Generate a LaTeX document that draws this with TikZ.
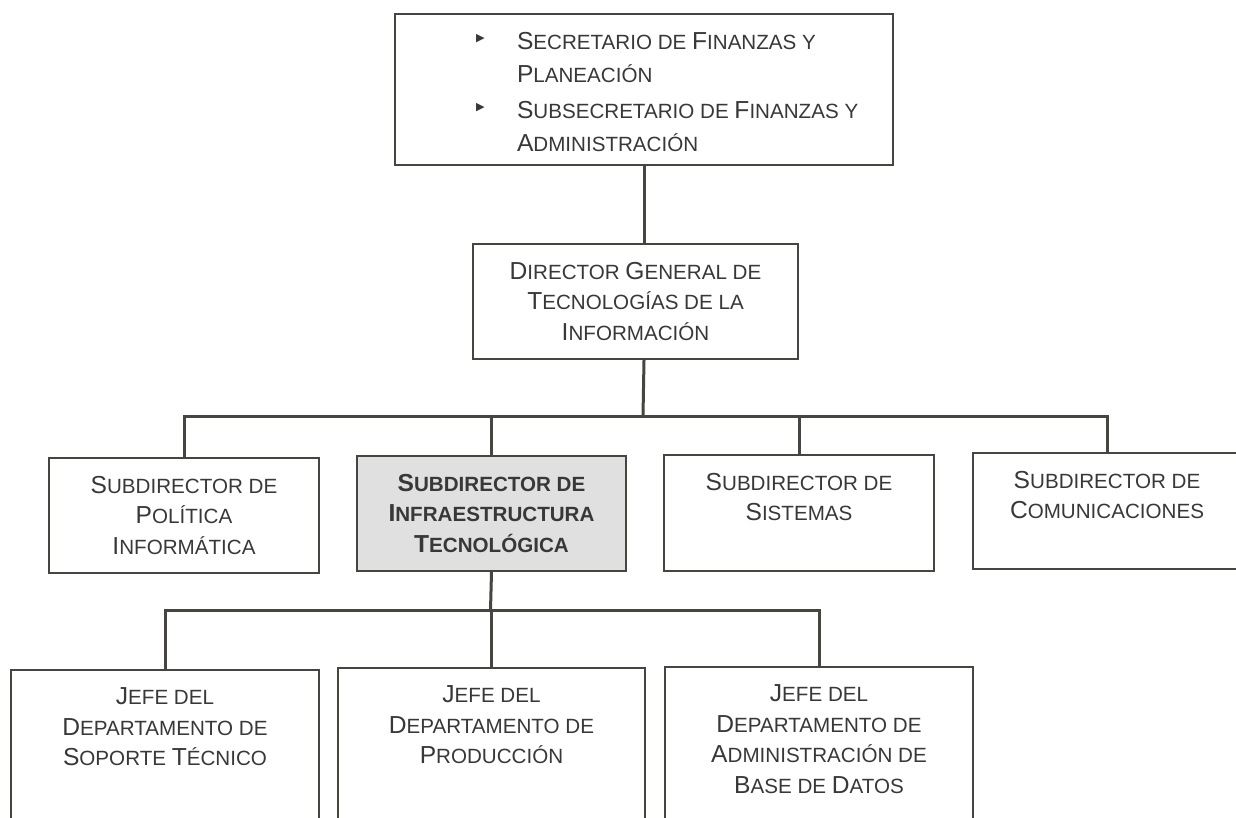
\documentclass[tikz,border=0pt]{standalone}
\usepackage{fontspec}
\setmainfont{Liberation Sans}
\newfontfamily\simbolos{DejaVu Sans}
\usepackage{tikz}

\definecolor{tinta}{HTML}{383838}
\definecolor{marco}{HTML}{48443F}
\definecolor{sombreado}{HTML}{E0E0E0}

\newcommand{\Ini}[1]{{\fontsize{12.3}{15.25}\selectfont #1}}
\newcommand{\vineta}{\leavevmode\llap{\makebox[20.5pt][l]{\raisebox{4pt}{\simbolos\fontsize{5.6}{6}\selectfont ▶}}}}

\tikzset{
  puesto/.style n args={2}{draw=marco, line width=1pt, inner sep=0pt, anchor=north west, text=tinta,
    font=\fontsize{10.3}{15.25}\selectfont,
    execute at begin node={\begin{minipage}[c][#2][t]{#1}\centering\vspace*{9pt}},
    execute at end node={\end{minipage}}},
  destacado/.style={fill=sombreado, font=\fontsize{10.3}{15.25}\selectfont\bfseries},
  linea/.style={draw=marco, line width=1.5pt},
}

\begin{document}
\begin{tikzpicture}[x=0.5pt,y=-0.5pt]
  \fill[white] (0,0) rectangle (1236,818);
  \useasboundingbox (0,0) rectangle (1236,818);

  \draw (394,13) node[puesto={249pt}{75.5pt}, font=\fontsize{10.3}{16.5}\selectfont] (secretario)
    {\raggedright\leftskip=61pt
     \vineta\Ini{S}ECRETARIO DE \Ini{F}INANZAS Y\\ \Ini{P}LANEACIÓN\par\vspace{1.5pt}
     \vineta\Ini{S}UBSECRETARIO DE \Ini{F}INANZAS Y\\ \Ini{A}DMINISTRACIÓN\par};
  \draw (472,243) node[puesto={162.5pt}{57.5pt}] (director)
    {\Ini{D}IRECTOR \Ini{G}ENERAL DE\\ \Ini{T}ECNOLOGÍAS DE LA\\ \Ini{I}NFORMACIÓN};

  \draw (48,457) node[puesto={135pt}{57.5pt}] (politica)
    {\Ini{S}UBDIRECTOR DE\\ \Ini{P}OLÍTICA\\ \Ini{I}NFORMÁTICA};
  \draw (356,455) node[puesto={134.5pt}{57.5pt}, destacado] (infraestructura)
    {\Ini{S}UBDIRECTOR DE\\ \Ini{I}NFRAESTRUCTURA\\ \Ini{T}ECNOLÓGICA};
  \draw (663,454) node[puesto={135pt}{58pt}] (sistemas)
    {\Ini{S}UBDIRECTOR DE\\ \Ini{S}ISTEMAS};
  \draw (972,452) node[puesto={134pt}{58pt}] (comunicaciones)
    {\Ini{S}UBDIRECTOR DE\\ \Ini{C}OMUNICACIONES};

  \draw (10,669) node[puesto={154pt}{85pt}] (soporte)
    {\Ini{J}EFE DEL\\ \Ini{D}EPARTAMENTO DE\\ \Ini{S}OPORTE \Ini{T}ÉCNICO};
  \draw (337,667) node[puesto={153.5pt}{85pt}] (produccion)
    {\Ini{J}EFE DEL\\ \Ini{D}EPARTAMENTO DE\\ \Ini{P}RODUCCIÓN};
  \draw (664,666) node[puesto={154pt}{85pt}] (basedatos)
    {\Ini{J}EFE DEL\\ \Ini{D}EPARTAMENTO DE\\ \Ini{A}DMINISTRACIÓN DE\\ \Ini{B}ASE DE \Ini{D}ATOS};

  \coordinate (nivel2) at (643,416);
  \coordinate (nivel3) at (490.5,610);

  \draw[linea] (secretario.south) -- (secretario.south |- director.north);
  \draw[linea] (secretario.south |- director.south) -- (nivel2);
  \draw[linea] (politica.north) |- (comunicaciones.north |- nivel2) -- (comunicaciones.north);
  \foreach \n in {infraestructura,sistemas}
    \draw[linea] (\n.north) -- (\n.north |- nivel2);

  \draw[linea] (infraestructura.south) -- (nivel3);
  \draw[linea] (soporte.north) |- (basedatos.north |- nivel3) -- (basedatos.north);
  \draw[linea] (produccion.north) -- (produccion.north |- nivel3);

\end{tikzpicture}
\end{document}
